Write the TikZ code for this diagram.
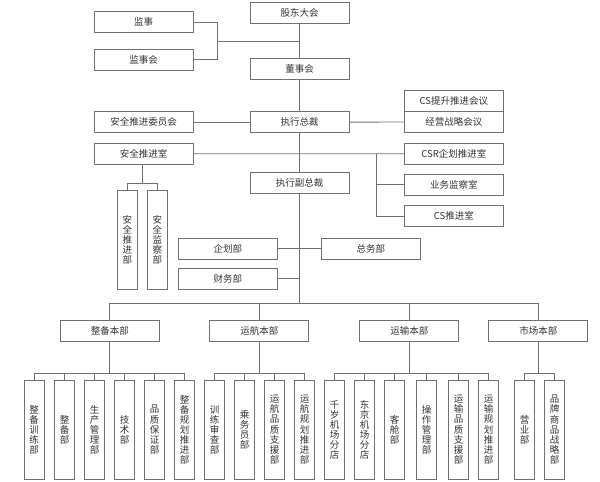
\documentclass[tikz,border=0pt]{standalone}
\usepackage{fontspec}
\setmainfont{Noto Sans CJK SC}
\definecolor{lc}{HTML}{707070}
\definecolor{tc}{HTML}{333333}
\begin{document}
\begin{tikzpicture}[x=1pt,y=-1pt,line width=0.9pt,draw=lc]
\useasboundingbox (0,0) rectangle (600,482);
\tikzset{
  hb/.style={draw=lc,fill=white,minimum width=99pt,minimum height=21pt,inner sep=0pt,
    font=\fontsize{9.5}{10}\selectfont,text=tc},
  vb/.style={draw=lc,fill=white,minimum width=20.4pt,minimum height=99.3pt,inner sep=0pt,
    align=center,font=\fontsize{9.5}{10.1}\selectfont,text=tc},
  ln/.style={draw=lc,line width=0.9pt}
}
% top level
\node[hb] (gudong) at (299.7,13) {股东大会};
\node[hb] (jianshi) at (143.6,22) {监事};
\node[hb] (jianshihui) at (143.6,59.7) {监事会};
\node[hb] (dongshi) at (299.7,68.8) {董事会};
\node[hb] (weiyuan) at (143.6,122.2) {安全推进委员会};
\node[hb] (zongcai) at (299.7,122.2) {执行总裁};
\node[hb] (anquanshi) at (143.6,153.8) {安全推进室};
\node[hb] (cstisheng) at (453.8,101.2) {CS提升推进会议};
\node[hb] (jingying) at (453.8,122.0) {经营战略会议};
\node[hb] (csr) at (453.8,153.7) {CSR企划推进室};
\node[hb] (yewu) at (453.8,184.8) {业务监察室};
\node[hb] (cstui) at (453.8,216) {CS推进室};
\node[hb] (fuzongcai) at (299.7,183) {执行副总裁};
\node[vb] (aqtj) at (127.3,240) {安\\全\\推\\进\\部};
\node[vb] (aqjc) at (157.3,240) {安\\全\\监\\察\\部};
\node[hb] (qihua) at (227.8,248.7) {企划部};
\node[hb] (zongwu) at (370.8,248.7) {总务部};
\node[hb] (caiwu) at (227.8,278.8) {财务部};
% headquarters
\node[hb] (zhengbei) at (109.8,330.8) {整备本部};
\node[hb] (yunhang) at (259.3,330.8) {运航本部};
\node[hb] (yunshu) at (409.3,330.8) {运输本部};
\node[hb] (shichang) at (538.3,330.8) {市场本部};
% departments
\node[vb] (z1) at (34.2,429.7) {整\\备\\训\\练\\部};
\node[vb] (z2) at (64.5,429.7) {整\\备\\部};
\node[vb] (z3) at (94.5,429.7) {生\\产\\管\\理\\部};
\node[vb] (z4) at (124.5,429.7) {技\\术\\部};
\node[vb] (z5) at (154.5,429.7) {品\\质\\保\\证\\部};
\node[vb] (z6) at (184.5,429.7) {整\\备\\规\\划\\推\\进\\部};
\node[vb] (h1) at (214.5,429.7) {训\\练\\审\\查\\部};
\node[vb] (h2) at (244.5,429.7) {乘\\务\\员\\部};
\node[vb] (h3) at (274.5,429.7) {运\\航\\品\\质\\支\\援\\部};
\node[vb] (h4) at (304.5,429.7) {运\\航\\规\\划\\推\\进\\部};
\node[vb] (s1) at (334.5,429.7) {千\\岁\\机\\场\\分\\店};
\node[vb] (s2) at (364.5,429.7) {东\\京\\机\\场\\分\\店};
\node[vb] (s3) at (394.5,429.7) {客\\舱\\部};
\node[vb] (s4) at (426.5,429.7) {操\\作\\管\\理\\部};
\node[vb] (s5) at (458.5,429.7) {运\\输\\品\\质\\支\\援\\部};
\node[vb] (s6) at (488.5,429.7) {运\\输\\规\\划\\推\\进\\部};
\node[vb] (m1) at (524.5,429.7) {营\\业\\部};
\node[vb] (m2) at (554.5,429.7) {品\\牌\\商\\品\\战\\略\\部};
% connectors: top
\coordinate (mid) at (299.7,41.2);
\draw[ln] (jianshi.east) -- ++(24.3,0) coordinate (j1) |- (jianshihui.east);
\draw[ln] (j1 |- mid) -- (mid);
\draw[ln] (gudong) -- (dongshi);
\draw[ln] (dongshi) -- (zongcai);
\draw[ln] (weiyuan) -- (zongcai);
\draw[ln] (zongcai) -- (jingying.west);
\draw[ln] (zongcai) -- (fuzongcai);
\draw[ln] (anquanshi) -- (csr);
\coordinate (b1) at (376,153.8);
\draw[ln] (b1) |- (cstui.west);
\draw[ln] (b1 |- yewu.west) -- (yewu.west);
\path (anquanshi.south) ++(-1.2,0) coordinate (as) ++(0,18.8) coordinate (a1);
\draw[ln] (as) -- (a1);
\draw[ln] (aqtj.north) |- (a1) -| (aqjc.north);
\draw[ln] (qihua) -- (zongwu);
\draw[ln] (caiwu.east) -- (caiwu.east -| fuzongcai.south);
\coordinate (topbus) at (299.7,303.3);
\draw[ln] (fuzongcai.south) -- (topbus);
\draw[ln] (zhengbei.north) |- (topbus) -| (shichang.north);
\draw[ln] (yunhang.north) -- (yunhang.north |- topbus);
\draw[ln] (yunshu.north) -- (yunshu.north |- topbus);
% department buses
\foreach \hq/\first/\last/\list in {zhengbei/z1/z6/{z1,z2,z3,z4,z5,z6},yunhang/h1/h4/{h1,h2,h3,h4},yunshu/s1/s6/{s1,s2,s3,s4,s5,s6},shichang/m1/m2/{m1,m2}}{
  \path (\hq.south) ++(0,31.2) coordinate (bb);
  \draw[ln] (\hq.south) -- (bb);
  \draw[ln] (\first.north |- bb) -- (\last.north |- bb);
  \foreach \d in \list { \draw[ln] (\d.north) -- (\d.north |- bb); }
}
\end{tikzpicture}
\end{document}
